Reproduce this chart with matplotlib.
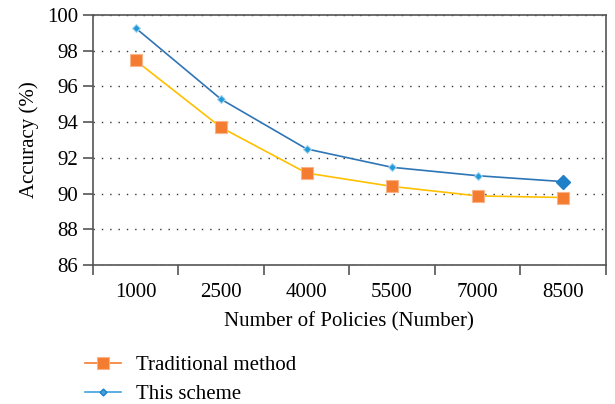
import numpy as np
import matplotlib
matplotlib.use("Agg")
from matplotlib import pyplot as plt
from matplotlib.lines import Line2D

policies = ["1000", "2500", "4000", "5500", "7000", "8500"]
traditional = [97.45, 93.7, 91.15, 90.4, 89.87, 89.78]
scheme = [99.27, 95.28, 92.5, 91.47, 91.0, 90.67]

plt.rcParams['font.family'] = ['Liberation Serif', 'DejaVu Serif']

fig = plt.figure(figsize=(6.15, 4.04), dpi=100)
ax = fig.add_axes([0.151, 0.344, 0.834, 0.619])

x = np.arange(len(policies))

ax.plot(x, traditional, color='#FFC000', lw=1.2, zorder=3)
ax.plot(x, traditional, ls='none', marker='s', ms=8, color='#F47C30',
        mec='#F9B48A', mew=0.8, zorder=4)
ax.plot(x, scheme, color='#2E75B6', lw=1.2, zorder=3)
ax.plot(x[:-1], scheme[:-1], ls='none', marker='D', ms=4.5, color='#1F9BD7',
        mec='#A9D3EE', mew=0.8, zorder=4)
ax.plot(x[-1:], scheme[-1:], ls='none', marker='D', ms=7, color='#1F80C8', zorder=4)

ax.set_xlim(-0.5, len(policies) - 0.5)
ax.set_ylim(86, 100)
ax.set_yticks(np.arange(86, 101, 2))
ax.yaxis.grid(True, ls=(0, (1, 5)), color='#333333', lw=1)
ax.set_axisbelow(True)

# ticks at category boundaries, labels at centers
ax.set_xticks(np.arange(-0.5, len(policies), 1.0))
ax.set_xticklabels([])
ax.set_xticks(x, minor=True)
ax.set_xticklabels(policies, minor=True)
ax.tick_params(axis='x', which='minor', length=0, pad=13, labelsize=15)
ax.tick_params(axis='x', which='major', length=7, width=1.2, color='#555555')
ax.tick_params(axis='y', length=7, width=1.2, color='#555555', labelsize=15)

for s in ax.spines.values():
    s.set_color('#555555')
    s.set_linewidth(1.2)

ax.set_xlabel("Number of Policies (Number)", fontsize=15, labelpad=7)
ax.set_ylabel("Accuracy (%)", fontsize=15, labelpad=6)

handles = [
    Line2D([], [], color='#F47C30', lw=1.2, marker='s', ms=8, mec='#F9B48A', mew=0.8),
    Line2D([], [], color='#3FA2DC', lw=1.2, marker='D', ms=3.5, mec='#1F80C8'),
]
fig.legend(handles, ["Traditional method", "This scheme"], loc='upper left',
           bbox_to_anchor=(0.122, 0.145), frameon=False, fontsize=15,
           handlelength=1.7, labelspacing=0.45, borderpad=0, handletextpad=0.75)

fig.savefig("out.png", dpi=100)
